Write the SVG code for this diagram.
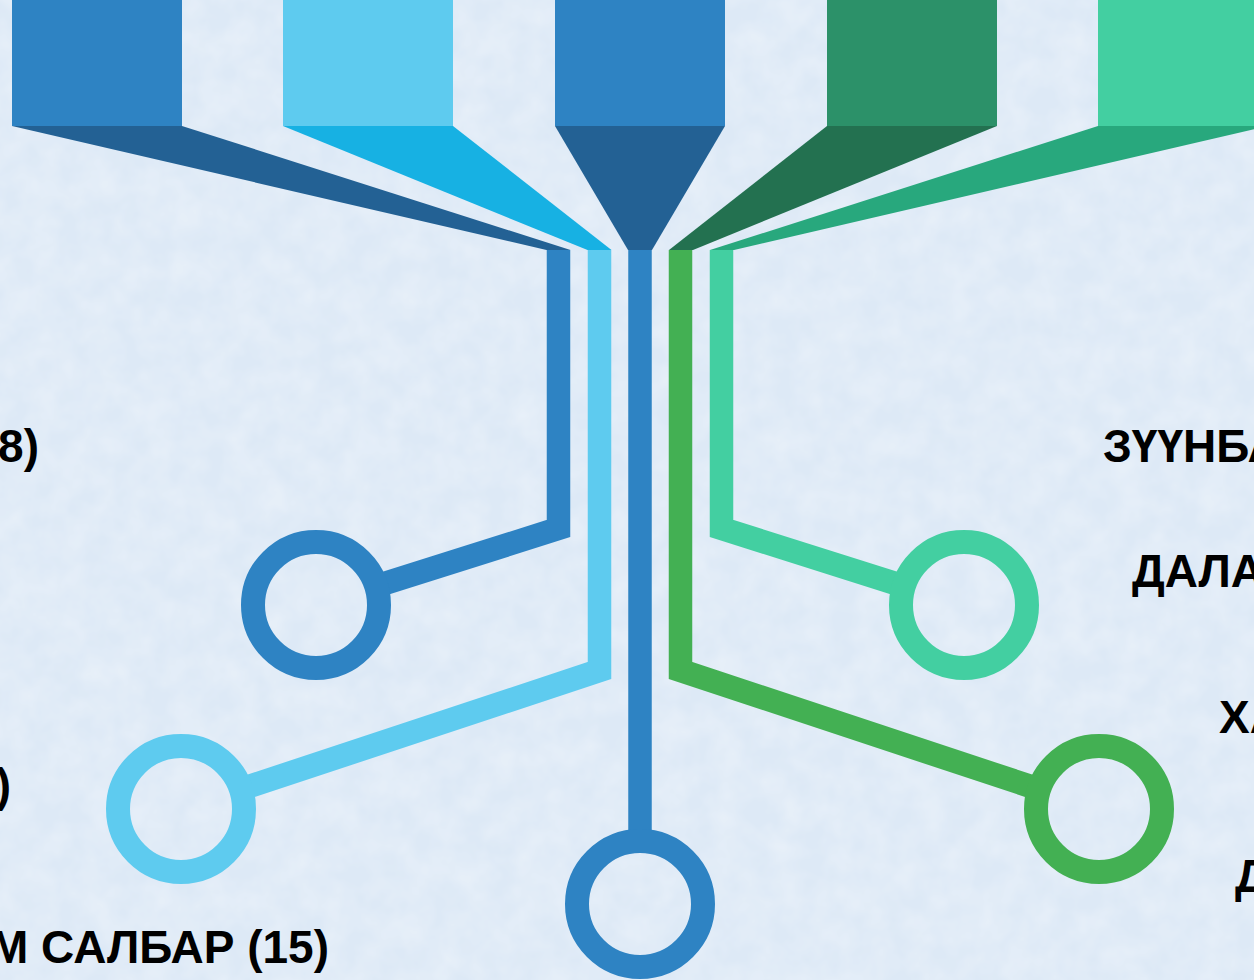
<svg xmlns="http://www.w3.org/2000/svg" width="1254" height="980" viewBox="0 0 1254 980">
  <defs>
    <filter id="tex" x="0" y="0" width="100%" height="100%">
      <feTurbulence type="fractalNoise" baseFrequency="0.035" numOctaves="3" seed="7" result="n"/>
      <feColorMatrix in="n" type="matrix" values="0 0 0 0 1  0 0 0 0 1  0 0 0 0 1  0 0 0 0.45 -0.12"/>
    </filter>
  </defs>
  <style>
    .lbl { font-family: "Liberation Sans", Arial, sans-serif; font-weight: bold; font-size: 46px; fill: #000; }
    .ring { fill: none; stroke-width: 24; }
    .bar { fill: none; stroke-width: 23.5; stroke-linejoin: miter; stroke-miterlimit: 10; }
  </style>
  <rect width="1254" height="980" fill="#DDE9F6"/>
  <rect width="1254" height="980" filter="url(#tex)"/>

  <g id="connectors">
    <polyline class="bar" stroke="#2E83C3" points="558.5,250 558.5,528.5 375,586.5"/>
    <polyline class="bar" stroke="#5ECBEF" points="599.5,250 599.5,670.5 240,789.5"/>
    <polyline class="bar" stroke="#2E83C3" points="640,250 640,842"/>
    <polyline class="bar" stroke="#43B053" points="680.5,250 680.5,670.5 1040,789.5"/>
    <polyline class="bar" stroke="#43CFA1" points="721.5,250 721.5,528.5 905,586.5"/>
  </g>

  <g id="node1">
    <rect x="12" y="0" width="170" height="126" fill="#2E83C3"/>
    <polygon points="12,126 182,126 570.5,250 546.5,250" fill="#236194"/>
    <circle class="ring" cx="316" cy="605" r="63" stroke="#2E83C3"/>
  </g>
  <g id="node2">
    <rect x="283" y="0" width="170" height="126" fill="#5ECBEF"/>
    <polygon points="283,126 453,126 611.5,250 587.5,250" fill="#17B1E3"/>
    <circle class="ring" cx="181" cy="809" r="63" stroke="#5ECBEF"/>
  </g>
  <g id="node3">
    <rect x="555" y="0" width="170" height="126" fill="#2E83C3"/>
    <polygon points="555,126 725,126 652,250 628,250" fill="#236194"/>
    <circle class="ring" cx="640" cy="904" r="63" stroke="#2E83C3"/>
  </g>
  <g id="node4">
    <rect x="827" y="0" width="170" height="126" fill="#2C9169"/>
    <polygon points="827,126 997,126 693,250 669,250" fill="#237150"/>
    <circle class="ring" cx="1099" cy="809" r="63" stroke="#43B053"/>
  </g>
  <g id="node5">
    <rect x="1098" y="0" width="170" height="126" fill="#43CFA1"/>
    <polygon points="1098,126 1268,126 734,250 710,250" fill="#28A87D"/>
    <circle class="ring" cx="964" cy="605" r="63" stroke="#43CFA1"/>
  </g>

  <g id="labels">
    <text class="lbl" x="39" y="462" text-anchor="end">8)</text>
    <text class="lbl" x="11" y="801" text-anchor="end">)</text>
    <text class="lbl" x="329" y="963" text-anchor="end">М САЛБАР (15)</text>
    <text class="lbl" x="1103" y="462">ЗҮҮНБА</text>
    <text class="lbl" x="1132" y="587">ДАЛА</text>
    <text class="lbl" x="1219" y="733">ХА</text>
    <text class="lbl" x="1235" y="892">Д</text>
  </g>
</svg>
